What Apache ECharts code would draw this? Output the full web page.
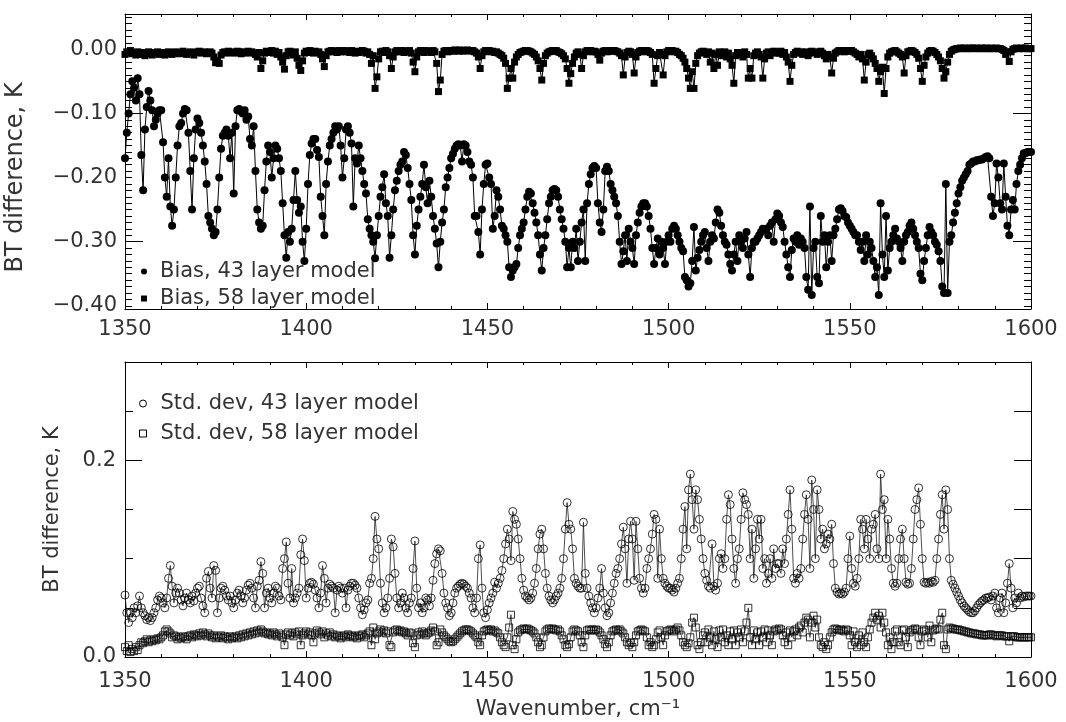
<!DOCTYPE html>
<html>
<head>
<meta charset="utf-8">
<title>BT difference</title>
<script src="https://cdn.jsdelivr.net/npm/echarts@6.0.0/dist/echarts.min.js"></script>
<style>
  html, body { margin: 0; padding: 0; background: #fff; }
  #chart { width: 1066px; height: 722px; }
</style>
</head>
<body>
<div id="chart"></div>
<script>
// channel grid: 1350 to 1600 cm-1, every 0.5 cm-1
var wavenumber = []
for (var w = 1350; w <= 1600; w += 0.5) wavenumber.push(w)

// bias, 43 layer model (K)
var bias43 = [
  -0.17, -0.13, -0.10, -0.07, -0.05, -0.06, -0.08, -0.045, -0.07, -0.165,
  -0.22, -0.125, -0.09, -0.065, -0.08, -0.095, -0.12, -0.11, -0.10, -0.095,
  -0.095, -0.145, -0.20, -0.23, -0.17, -0.245, -0.275, -0.25, -0.20, -0.15,
  -0.12, -0.115, -0.10, -0.093, -0.095, -0.13, -0.19, -0.25, -0.17, -0.125,
  -0.108, -0.115, -0.13, -0.15, -0.175, -0.21, -0.26, -0.27, -0.28, -0.29,
  -0.285, -0.25, -0.20, -0.155, -0.135, -0.13, -0.125, -0.135, -0.17, -0.13,
  -0.225, -0.12, -0.095, -0.093, -0.097, -0.10, -0.095, -0.11, -0.105, -0.14,
  -0.15, -0.12, -0.19, -0.25, -0.27, -0.28, -0.275, -0.22, -0.175, -0.15,
  -0.16, -0.20, -0.17, -0.15, -0.155, -0.17, -0.19, -0.24, -0.29, -0.325,
  -0.285, -0.30, -0.28, -0.235, -0.19, -0.235, -0.255, -0.245, -0.30, -0.33,
  -0.28, -0.21, -0.165, -0.147, -0.14, -0.14, -0.157, -0.168, -0.23, -0.26,
  -0.29, -0.21, -0.175, -0.15, -0.14, -0.13, -0.12, -0.125, -0.12, -0.15,
  -0.20, -0.17, -0.125, -0.12, -0.13, -0.147, -0.245, -0.17, -0.178, -0.15,
  -0.17, -0.19, -0.21, -0.225, -0.265, -0.28, -0.29, -0.30, -0.326, -0.29,
  -0.26, -0.23, -0.215, -0.195, -0.24, -0.26, -0.325, -0.29, -0.25, -0.22,
  -0.205, -0.19, -0.18, -0.175, -0.16, -0.165, -0.185, -0.21, -0.235, -0.29,
  -0.32, -0.275, -0.25, -0.23, -0.21, -0.18, -0.215, -0.24, -0.205, -0.23,
  -0.26, -0.28, -0.303, -0.34, -0.30, -0.27, -0.25, -0.215, -0.20, -0.185,
  -0.17, -0.163, -0.155, -0.15, -0.148, -0.15, -0.175, -0.148, -0.15, -0.16,
  -0.175, -0.18, -0.20, -0.26, -0.26, -0.285, -0.32, -0.25, -0.21, -0.18,
  -0.178, -0.20, -0.21, -0.28, -0.26, -0.22, -0.23, -0.25, -0.275, -0.28,
  -0.29, -0.30, -0.34, -0.355, -0.345, -0.34, -0.335, -0.31, -0.29, -0.28,
  -0.27, -0.25, -0.23, -0.222, -0.225, -0.24, -0.255, -0.27, -0.29, -0.32,
  -0.345, -0.31, -0.29, -0.265, -0.24, -0.23, -0.22, -0.218, -0.22, -0.23,
  -0.25, -0.265, -0.28, -0.30, -0.34, -0.31, -0.34, -0.30, -0.31, -0.28,
  -0.33, -0.30, -0.27, -0.25, -0.33, -0.24, -0.21, -0.195, -0.185, -0.182,
  -0.185, -0.24, -0.27, -0.285, -0.25, -0.19, -0.183, -0.19, -0.21, -0.22,
  -0.23, -0.24, -0.26, -0.30, -0.335, -0.315, -0.29, -0.33, -0.28, -0.30,
  -0.31, -0.335, -0.29, -0.27, -0.255, -0.245, -0.24, -0.24, -0.245, -0.26,
  -0.28, -0.31, -0.335, -0.31, -0.295, -0.32, -0.30, -0.31, -0.335, -0.30,
  -0.29, -0.30, -0.28, -0.275, -0.28, -0.29, -0.30, -0.31, -0.315, -0.355,
  -0.36, -0.37, -0.365, -0.33, -0.277, -0.345, -0.325, -0.313, -0.30, -0.29,
  -0.285, -0.31, -0.33, -0.30, -0.29, -0.295, -0.27, -0.25, -0.255, -0.275,
  -0.29, -0.30, -0.305, -0.32, -0.335, -0.345, -0.32, -0.30, -0.33, -0.29,
  -0.30, -0.31, -0.295, -0.285, -0.32, -0.355, -0.31, -0.30, -0.30, -0.295,
  -0.29, -0.285, -0.28, -0.282, -0.28, -0.29, -0.275, -0.27, -0.30, -0.265,
  -0.256, -0.26, -0.27, -0.277, -0.30, -0.32, -0.34, -0.355, -0.313, -0.295,
  -0.30, -0.29, -0.305, -0.295, -0.30, -0.31, -0.355, -0.375, -0.245, -0.383,
  -0.31, -0.30, -0.355, -0.365, -0.26, -0.30, -0.29, -0.34, -0.30, -0.29,
  -0.33, -0.29, -0.28, -0.265, -0.25, -0.248, -0.252, -0.26, -0.262, -0.27,
  -0.275, -0.28, -0.285, -0.29, -0.29, -0.30, -0.313, -0.30, -0.33, -0.29,
  -0.32, -0.30, -0.31, -0.33, -0.355, -0.34, -0.383, -0.24, -0.32, -0.355,
  -0.26, -0.345, -0.31, -0.30, -0.29, -0.28, -0.295, -0.30, -0.31, -0.33,
  -0.30, -0.29, -0.285, -0.275, -0.27, -0.28, -0.29, -0.30, -0.31, -0.35,
  -0.36, -0.33, -0.31, -0.29, -0.277, -0.285, -0.29, -0.30, -0.305, -0.315,
  -0.33, -0.37, -0.38, -0.21, -0.38, -0.30, -0.29, -0.27, -0.255, -0.24,
  -0.225, -0.215, -0.205, -0.20, -0.195, -0.19, -0.18, -0.178, -0.175, -0.175,
  -0.173, -0.173, -0.172, -0.172, -0.17, -0.168, -0.167, -0.17, -0.23, -0.26,
  -0.24, -0.178, -0.20, -0.24, -0.25, -0.178, -0.23, -0.275, -0.29, -0.25,
  -0.235, -0.25, -0.21, -0.19, -0.18, -0.17, -0.162, -0.162, -0.16, -0.16,
  -0.16
]

// bias, 58 layer model (K)
var bias58 = [
  -0.008, -0.004, -0.006, -0.002, -0.007, -0.005, -0.009, -0.004, -0.006, -0.008,
  -0.005, -0.010, -0.006, -0.004, -0.007, -0.009, -0.005, -0.006, -0.004, -0.008,
  -0.006, -0.005, -0.009, -0.007, -0.004, -0.006, -0.008, -0.005, -0.004, -0.006,
  -0.007, -0.005, -0.003, -0.006, -0.008, -0.005, -0.004, -0.006, -0.009, -0.005,
  -0.004, -0.003, -0.006, -0.005, -0.004, -0.007, -0.005, -0.004, -0.006, -0.012,
  -0.021, -0.018, -0.022, -0.009, -0.005, -0.004, -0.006, -0.003, -0.005, -0.004,
  -0.006, -0.005, -0.003, -0.004, -0.007, -0.005, -0.004, -0.006, -0.003, -0.005,
  -0.004, -0.006, -0.008, -0.012, -0.005, -0.030, -0.018, -0.006, -0.003, -0.005,
  -0.004, -0.002, -0.006, -0.003, -0.008, -0.005, -0.012, -0.020, -0.031, -0.010,
  -0.004, -0.003, -0.006, -0.009, -0.004, -0.014, -0.025, -0.033, -0.018, -0.006,
  -0.003, -0.005, -0.002, -0.004, -0.006, -0.003, -0.005, -0.004, -0.008, -0.015,
  -0.027, -0.010, -0.004, -0.003, -0.002, -0.004, -0.003, -0.005, -0.002, -0.004,
  -0.003, -0.002, -0.004, -0.003, -0.005, -0.002, -0.004, -0.006, -0.003, -0.005,
  -0.004, -0.002, -0.003, -0.006, -0.004, -0.008, -0.022, -0.010, -0.061, -0.043,
  -0.015, -0.004, -0.003, -0.005, -0.002, -0.004, -0.010, -0.030, -0.012, -0.004,
  -0.002, -0.004, -0.003, -0.002, -0.005, -0.003, -0.004, -0.002, -0.006, -0.020,
  -0.035, -0.012, -0.004, -0.002, -0.003, -0.005, -0.002, -0.004, -0.003, -0.005,
  -0.002, -0.004, -0.022, -0.066, -0.048, -0.008, -0.003, -0.002, -0.004, -0.003,
  -0.002, -0.003, -0.001, -0.002, -0.003, -0.001, -0.002, -0.003, -0.002, -0.001,
  -0.002, -0.003, -0.002, -0.004, -0.006, -0.012, -0.030, -0.010, -0.004, -0.002,
  -0.003, -0.002, -0.004, -0.003, -0.005, -0.004, -0.006, -0.008, -0.010, -0.014,
  -0.022, -0.061, -0.045, -0.030, -0.045, -0.020, -0.012, -0.008, -0.005, -0.004,
  -0.003, -0.002, -0.002, -0.003, -0.004, -0.006, -0.008, -0.012, -0.018, -0.030,
  -0.048, -0.022, -0.010, -0.006, -0.004, -0.003, -0.002, -0.003, -0.002, -0.004,
  -0.005, -0.007, -0.010, -0.015, -0.030, -0.053, -0.038, -0.022, -0.012, -0.006,
  -0.004, -0.008, -0.030, -0.010, -0.004, -0.002, -0.003, -0.002, -0.004, -0.003,
  -0.004, -0.008, -0.017, -0.006, -0.003, -0.002, -0.004, -0.003, -0.002, -0.003,
  -0.002, -0.003, -0.004, -0.006, -0.010, -0.040, -0.012, -0.005, -0.003, -0.004,
  -0.008, -0.037, -0.012, -0.005, -0.003, -0.002, -0.003, -0.004, -0.002, -0.003,
  -0.005, -0.008, -0.053, -0.030, -0.010, -0.005, -0.008, -0.040, -0.010, -0.004,
  -0.002, -0.003, -0.002, -0.004, -0.003, -0.005, -0.008, -0.010, -0.014, -0.020,
  -0.030, -0.045, -0.061, -0.035, -0.061, -0.022, -0.010, -0.006, -0.004, -0.003,
  -0.005, -0.008, -0.004, -0.020, -0.006, -0.030, -0.008, -0.025, -0.004, -0.010,
  -0.006, -0.004, -0.012, -0.006, -0.015, -0.025, -0.053, -0.010, -0.005, -0.008,
  -0.006, -0.012, -0.004, -0.008, -0.045, -0.030, -0.045, -0.010, -0.006, -0.004,
  -0.008, -0.012, -0.045, -0.015, -0.006, -0.004, -0.010, -0.005, -0.003, -0.006,
  -0.004, -0.006, -0.003, -0.008, -0.005, -0.012, -0.020, -0.050, -0.025, -0.008,
  -0.005, -0.003, -0.006, -0.004, -0.008, -0.006, -0.004, -0.010, -0.006, -0.003,
  -0.005, -0.004, -0.008, -0.005, -0.003, -0.006, -0.010, -0.015, -0.008, -0.012,
  -0.037, -0.014, -0.006, -0.004, -0.002, -0.003, -0.002, -0.004, -0.003, -0.002,
  -0.003, -0.002, -0.004, -0.006, -0.008, -0.012, -0.008, -0.015, -0.048, -0.020,
  -0.008, -0.006, -0.010, -0.015, -0.022, -0.030, -0.050, -0.035, -0.028, -0.069,
  -0.030, -0.012, -0.006, -0.004, -0.003, -0.002, -0.004, -0.006, -0.008, -0.012,
  -0.037, -0.010, -0.004, -0.003, -0.002, -0.003, -0.005, -0.008, -0.014, -0.030,
  -0.050, -0.025, -0.012, -0.006, -0.003, -0.002, -0.003, -0.005, -0.008, -0.012,
  -0.018, -0.030, -0.045, -0.035, -0.020, -0.008, -0.003, -0.001, 0.000, 0.001,
  0.001, 0.002, 0.001, 0.002, 0.001, 0.001, 0.002, 0.001, 0.002, 0.001,
  0.002, 0.001, 0.001, 0.002, 0.001, 0.002, 0.001, 0.001, 0.002, 0.001,
  0.001, 0.002, 0.001, 0.001, 0.000, -0.002, -0.008, -0.004, -0.019, -0.004,
  0.000, 0.001, 0.002, 0.001, 0.001, 0.002, 0.001, 0.002, 0.001, 0.001,
  0.001
]

// std. dev, 43 layer model (K)
var std43 = [
  0.063, 0.045, 0.035, 0.045, 0.040, 0.050, 0.045, 0.052, 0.062, 0.050,
  0.045, 0.042, 0.038, 0.040, 0.037, 0.040, 0.045, 0.050, 0.058, 0.062,
  0.060, 0.055, 0.050, 0.060, 0.080, 0.093, 0.072, 0.055, 0.065, 0.070,
  0.065, 0.058, 0.052, 0.060, 0.065, 0.058, 0.055, 0.062, 0.057, 0.065,
  0.070, 0.072, 0.060, 0.052, 0.045, 0.080, 0.087, 0.070, 0.060, 0.093,
  0.088, 0.045, 0.060, 0.070, 0.072, 0.068, 0.062, 0.058, 0.062, 0.055,
  0.050, 0.058, 0.065, 0.068, 0.062, 0.055, 0.060, 0.068, 0.073, 0.075,
  0.070, 0.060, 0.050, 0.072, 0.078, 0.097, 0.085, 0.050, 0.065, 0.070,
  0.060, 0.055, 0.065, 0.072, 0.070, 0.062, 0.058, 0.090, 0.100, 0.117,
  0.075, 0.060, 0.090, 0.055, 0.060, 0.065, 0.070, 0.104, 0.120, 0.098,
  0.060, 0.070, 0.075, 0.076, 0.074, 0.068, 0.060, 0.050, 0.065, 0.093,
  0.080, 0.055, 0.070, 0.074, 0.072, 0.070, 0.045, 0.068, 0.072, 0.070,
  0.065, 0.070, 0.050, 0.068, 0.072, 0.075, 0.075, 0.073, 0.070, 0.060,
  0.050, 0.043, 0.048, 0.055, 0.058, 0.075, 0.080, 0.100, 0.143, 0.120,
  0.110, 0.075, 0.055, 0.045, 0.050, 0.060, 0.080, 0.120, 0.112, 0.085,
  0.060, 0.050, 0.055, 0.065, 0.060, 0.050, 0.045, 0.055, 0.060, 0.090,
  0.118, 0.070, 0.050, 0.055, 0.045, 0.050, 0.060, 0.058, 0.052, 0.060,
  0.078, 0.095, 0.105, 0.110, 0.108, 0.085, 0.065, 0.055, 0.050, 0.042,
  0.045, 0.055, 0.065, 0.070, 0.072, 0.074, 0.075, 0.074, 0.072, 0.070,
  0.065, 0.060, 0.050, 0.045, 0.060, 0.100, 0.114, 0.070, 0.045, 0.040,
  0.048, 0.055, 0.060, 0.065, 0.076, 0.070, 0.075, 0.080, 0.088, 0.100,
  0.115, 0.130, 0.120, 0.098, 0.148, 0.140, 0.135, 0.120, 0.100, 0.080,
  0.068, 0.062, 0.060, 0.058, 0.060, 0.065, 0.075, 0.090, 0.110, 0.125,
  0.130, 0.110, 0.085, 0.070, 0.062, 0.058, 0.055, 0.058, 0.062, 0.065,
  0.070, 0.080, 0.100, 0.130, 0.157, 0.135, 0.130, 0.110, 0.080, 0.075,
  0.072, 0.070, 0.070, 0.137, 0.085, 0.070, 0.062, 0.055, 0.050, 0.045,
  0.050, 0.060, 0.070, 0.090, 0.065, 0.050, 0.042, 0.045, 0.055, 0.065,
  0.075, 0.085, 0.090, 0.100, 0.115, 0.132, 0.110, 0.075, 0.120, 0.138,
  0.120, 0.078, 0.138, 0.110, 0.080, 0.070, 0.065, 0.070, 0.090, 0.100,
  0.110, 0.125, 0.145, 0.140, 0.080, 0.130, 0.100, 0.080, 0.075, 0.072,
  0.070, 0.070, 0.068, 0.066, 0.070, 0.075, 0.080, 0.100, 0.130, 0.153,
  0.110, 0.170, 0.186, 0.160, 0.130, 0.170, 0.160, 0.140, 0.120, 0.100,
  0.085, 0.078, 0.072, 0.070, 0.115, 0.072, 0.068, 0.075, 0.100, 0.105,
  0.090, 0.100, 0.140, 0.165, 0.155, 0.120, 0.090, 0.075, 0.100, 0.110,
  0.140, 0.167, 0.160, 0.155, 0.145, 0.100, 0.130, 0.080, 0.110, 0.140,
  0.120, 0.140, 0.090, 0.100, 0.075, 0.085, 0.100, 0.080, 0.110, 0.090,
  0.095, 0.095, 0.085, 0.110, 0.095, 0.120, 0.145, 0.170, 0.130, 0.080,
  0.075, 0.085, 0.080, 0.090, 0.120, 0.145, 0.165, 0.140, 0.090, 0.180,
  0.150, 0.100, 0.170, 0.150, 0.120, 0.130, 0.110, 0.115, 0.125, 0.120,
  0.135, 0.095, 0.070, 0.066, 0.064, 0.065, 0.064, 0.066, 0.070, 0.100,
  0.123, 0.090, 0.075, 0.072, 0.080, 0.100, 0.140, 0.130, 0.110, 0.140,
  0.120, 0.100, 0.130, 0.135, 0.145, 0.110, 0.100, 0.186, 0.150, 0.160,
  0.100, 0.140, 0.120, 0.090, 0.075, 0.072, 0.075, 0.100, 0.120, 0.130,
  0.100, 0.076, 0.074, 0.075, 0.090, 0.120, 0.150, 0.160, 0.172, 0.135,
  0.100, 0.076, 0.075, 0.076, 0.075, 0.077, 0.076, 0.078, 0.100, 0.120,
  0.145, 0.165, 0.130, 0.170, 0.150, 0.100, 0.078, 0.074, 0.070, 0.066,
  0.062, 0.058, 0.055, 0.052, 0.050, 0.048, 0.046, 0.045, 0.045, 0.047,
  0.050, 0.053, 0.055, 0.057, 0.058, 0.060, 0.060, 0.061, 0.058, 0.062,
  0.065, 0.050, 0.045, 0.060, 0.065, 0.045, 0.055, 0.075, 0.095, 0.070,
  0.050, 0.060, 0.055, 0.065, 0.060, 0.062, 0.061, 0.062, 0.062, 0.062,
  0.062
]

// std. dev, 58 layer model (K)
var std58 = [
  0.010, 0.006, 0.012, 0.005, 0.008, 0.006, 0.010, 0.007, 0.012, 0.015,
  0.014, 0.016, 0.018, 0.015, 0.017, 0.016, 0.018, 0.017, 0.019, 0.018,
  0.020, 0.022, 0.026, 0.028, 0.026, 0.024, 0.020, 0.022, 0.021, 0.018,
  0.020, 0.019, 0.021, 0.020, 0.018, 0.021, 0.022, 0.020, 0.023, 0.022,
  0.021, 0.024, 0.022, 0.025, 0.023, 0.021, 0.024, 0.022, 0.020, 0.022,
  0.019, 0.021, 0.020, 0.022, 0.019, 0.021, 0.020, 0.018, 0.021, 0.019,
  0.020, 0.021, 0.019, 0.022, 0.020, 0.023, 0.021, 0.024, 0.022, 0.025,
  0.023, 0.026, 0.024, 0.027, 0.025, 0.028, 0.026, 0.024, 0.025, 0.023,
  0.024, 0.022, 0.025, 0.023, 0.021, 0.024, 0.022, 0.020, 0.012, 0.023,
  0.025, 0.022, 0.024, 0.021, 0.025, 0.023, 0.026, 0.012, 0.022, 0.024,
  0.026, 0.023, 0.025, 0.022, 0.015, 0.024, 0.027, 0.025, 0.023, 0.026,
  0.020, 0.024, 0.022, 0.025, 0.021, 0.023, 0.020, 0.022, 0.021, 0.019,
  0.021, 0.022, 0.020, 0.023, 0.021, 0.022, 0.020, 0.021, 0.019, 0.022,
  0.021, 0.023, 0.020, 0.022, 0.024, 0.026, 0.012, 0.030, 0.018, 0.024,
  0.026, 0.028, 0.025, 0.027, 0.024, 0.026, 0.012, 0.010, 0.025, 0.027,
  0.028, 0.026, 0.027, 0.025, 0.026, 0.024, 0.022, 0.025, 0.024, 0.014,
  0.010, 0.022, 0.025, 0.023, 0.026, 0.024, 0.022, 0.024, 0.025, 0.027,
  0.030, 0.026, 0.012, 0.015, 0.028, 0.025, 0.022, 0.020, 0.018, 0.016,
  0.015, 0.016, 0.018, 0.020, 0.022, 0.024, 0.026, 0.027, 0.028, 0.028,
  0.027, 0.026, 0.024, 0.022, 0.020, 0.015, 0.012, 0.022, 0.026, 0.027,
  0.028, 0.027, 0.028, 0.026, 0.027, 0.025, 0.024, 0.020, 0.015, 0.012,
  0.010, 0.020, 0.030, 0.043, 0.012, 0.008, 0.018, 0.025, 0.027, 0.028,
  0.029, 0.028, 0.029, 0.028, 0.027, 0.026, 0.024, 0.020, 0.015, 0.010,
  0.012, 0.020, 0.026, 0.028, 0.029, 0.028, 0.029, 0.028, 0.027, 0.028,
  0.026, 0.022, 0.018, 0.012, 0.010, 0.013, 0.020, 0.026, 0.028, 0.027,
  0.026, 0.022, 0.015, 0.010, 0.022, 0.027, 0.028, 0.027, 0.028, 0.027,
  0.028, 0.027, 0.025, 0.022, 0.018, 0.013, 0.010, 0.015, 0.022, 0.026,
  0.027, 0.028, 0.027, 0.028, 0.026, 0.024, 0.020, 0.015, 0.012, 0.014,
  0.010, 0.015, 0.022, 0.026, 0.027, 0.028, 0.027, 0.026, 0.020, 0.012,
  0.015, 0.010, 0.012, 0.018, 0.025, 0.027, 0.020, 0.012, 0.022, 0.026,
  0.027, 0.028, 0.027, 0.026, 0.028, 0.030, 0.027, 0.022, 0.015, 0.012,
  0.010, 0.014, 0.020, 0.035, 0.040, 0.030, 0.012, 0.008, 0.015, 0.022,
  0.025, 0.015, 0.028, 0.020, 0.012, 0.026, 0.018, 0.010, 0.027, 0.020,
  0.028, 0.015, 0.022, 0.012, 0.026, 0.018, 0.027, 0.012, 0.025, 0.020,
  0.028, 0.015, 0.026, 0.035, 0.050, 0.020, 0.012, 0.027, 0.018, 0.025,
  0.012, 0.026, 0.020, 0.028, 0.015, 0.027, 0.022, 0.012, 0.026, 0.028,
  0.027, 0.029, 0.028, 0.022, 0.015, 0.025, 0.012, 0.027, 0.020, 0.026,
  0.028, 0.022, 0.030, 0.032, 0.025, 0.035, 0.040, 0.038, 0.020, 0.035,
  0.042, 0.030, 0.038, 0.020, 0.012, 0.010, 0.015, 0.008, 0.012, 0.020,
  0.025, 0.028, 0.029, 0.028, 0.027, 0.028, 0.027, 0.026, 0.028, 0.027,
  0.022, 0.012, 0.026, 0.015, 0.010, 0.022, 0.012, 0.025, 0.015, 0.010,
  0.020, 0.028, 0.035, 0.040, 0.045, 0.038, 0.042, 0.030, 0.045, 0.035,
  0.025, 0.012, 0.020, 0.008, 0.015, 0.026, 0.028, 0.015, 0.012, 0.027,
  0.028, 0.020, 0.010, 0.025, 0.027, 0.028, 0.029, 0.028, 0.020, 0.012,
  0.026, 0.028, 0.027, 0.020, 0.032, 0.015, 0.027, 0.028, 0.029, 0.028,
  0.038, 0.045, 0.012, 0.008, 0.028, 0.030, 0.029, 0.029, 0.028, 0.028,
  0.028, 0.027, 0.027, 0.026, 0.026, 0.025, 0.025, 0.024, 0.024, 0.024,
  0.023, 0.023, 0.023, 0.022, 0.022, 0.022, 0.022, 0.023, 0.023, 0.022,
  0.022, 0.021, 0.022, 0.022, 0.022, 0.021, 0.021, 0.021, 0.016, 0.021,
  0.021, 0.021, 0.020, 0.020, 0.020, 0.020, 0.020, 0.020, 0.020, 0.020,
  0.020
]

// tick marks and labels
var xTicks = [1350, 1400, 1450, 1500, 1550, 1600]
var biasLabels = [-0.4, -0.3, -0.2, -0.1, 0]
var biasLongTicks = [-0.3, -0.1]
var stdLabels = [0, 0.2]
var stdLongTicks = [0.2]
var stdShortTicks = [0.05, 0.1, 0.15, 0.25]
var stdRightTicks = [0.05, 0.1, 0.15, 0.2, 0.25]
var biasShortTicks = []
for (var k = -40; k <= 5; k++) {
  if (k !== -30 && k !== -10) biasShortTicks.push(k / 100)
}

var font = 'DejaVu Sans'
var ink = '#000'
var textInk = '#333'

function pairs (values) {
  return wavenumber.map(function (x, i) { return [x, values[i]] })
}

function xAxisFor (gridIndex, position, showLabel, margin) {
  return {
    type: 'value',
    gridIndex: gridIndex,
    position: position,
    min: 1350,
    max: 1600,
    interval: 50,
    axisLine: { show: true, onZero: false, lineStyle: { color: ink, width: 1 } },
    splitLine: { show: false },
    axisTick: { show: true, inside: true, length: 6, lineStyle: { color: ink } },
    minorTick: { show: true, splitNumber: 5, length: 3, lineStyle: { color: ink } },
    axisLabel: {
      show: showLabel,
      customValues: xTicks,
      margin: margin,
      fontFamily: font,
      fontSize: 21,
      color: textInk,
      formatter: function (v) { return String(v) }
    }
  }
}

function yTickAxis (gridIndex, position, min, max, ticks, len, showLine) {
  return {
    type: 'value',
    gridIndex: gridIndex,
    position: position,
    min: min,
    max: max,
    axisLine: { show: showLine, onZero: false, lineStyle: { color: ink, width: 1 } },
    splitLine: { show: false },
    axisTick: { show: true, inside: true, length: len, customValues: ticks, lineStyle: { color: ink } },
    axisLabel: { show: false }
  }
}

var biasMin = -0.405
var biasMax = 0.055
var stdMin = 0
var stdMax = 0.3

var biasLeft = yTickAxis(0, 'left', biasMin, biasMax, biasLongTicks, 18, true)
biasLeft.axisLabel = {
  show: true,
  customValues: biasLabels,
  margin: 8,
  fontFamily: font,
  fontSize: 21,
  color: textInk,
  formatter: function (v) {
    if (Math.abs(v) < 1e-9) return '0.00'
    return (v < 0 ? '\u2212' : '') + Math.abs(v).toFixed(2)
  }
}
biasLeft.name = 'BT difference, K'
biasLeft.nameLocation = 'middle'
biasLeft.nameGap = 97
// the upper title sits a little below the panel centre and is set larger
biasLeft.nameTextStyle = { fontFamily: font, fontSize: 24, color: textInk, padding: [0, 32, 0, 0] }

var stdLeft = yTickAxis(1, 'left', stdMin, stdMax, stdLongTicks, 17, true)
stdLeft.axisLabel = {
  show: true,
  customValues: stdLabels,
  margin: 9,
  fontFamily: font,
  fontSize: 21,
  color: textInk,
  formatter: function (v) { return v.toFixed(1) }
}
stdLeft.name = 'BT difference, K'
stdLeft.nameLocation = 'middle'
stdLeft.nameGap = 62
stdLeft.nameTextStyle = { fontFamily: font, fontSize: 21, color: textInk }

var stdBottomX = xAxisFor(1, 'bottom', true, 14)
stdBottomX.name = 'Wavenumber, cm\u207B\u00B9'
stdBottomX.nameLocation = 'middle'
stdBottomX.nameGap = 42
stdBottomX.nameTextStyle = { fontFamily: font, fontSize: 21, color: textInk }

var option = {
  animation: false,
  backgroundColor: '#fff',
  grid: [
    { left: 125, top: 14, width: 906, height: 295, outerBoundsMode: 'none' },
    { left: 125, top: 362, width: 906, height: 295, outerBoundsMode: 'none' }
  ],
  legend: [
    {
      orient: 'vertical',
      left: 141,
      top: 261,
      padding: 0,
      itemGap: 6,
      itemWidth: 6,
      itemHeight: 6,
      selectedMode: false,
      textStyle: { fontFamily: font, fontSize: 21, color: textInk, padding: [0, 0, 0, 8] },
      data: [
        { name: 'Bias, 43 layer model', icon: 'circle' },
        { name: 'Bias, 58 layer model', icon: 'rect' }
      ]
    },
    {
      orient: 'vertical',
      left: 139,
      top: 393,
      padding: 0,
      itemGap: 9,
      itemWidth: 7,
      itemHeight: 7,
      selectedMode: false,
      textStyle: { fontFamily: font, fontSize: 21, color: textInk, padding: [0, 0, 0, 9] },
      data: [
        { name: 'Std. dev, 43 layer model', icon: 'circle', itemStyle: { color: 'rgba(0,0,0,0)', borderColor: ink, borderWidth: 1 } },
        { name: 'Std. dev, 58 layer model', icon: 'rect', itemStyle: { color: 'rgba(0,0,0,0)', borderColor: ink, borderWidth: 1 } }
      ]
    }
  ],
  xAxis: [
    xAxisFor(0, 'bottom', true, 10),
    xAxisFor(0, 'top', false, 8),
    stdBottomX,
    xAxisFor(1, 'top', false, 8)
  ],
  yAxis: [
    biasLeft,
    yTickAxis(0, 'left', biasMin, biasMax, biasShortTicks, 7, false),
    yTickAxis(0, 'right', biasMin, biasMax, biasLongTicks, 18, true),
    yTickAxis(0, 'right', biasMin, biasMax, biasShortTicks, 7, false),
    stdLeft,
    yTickAxis(1, 'left', stdMin, stdMax, stdShortTicks, 8, false),
    yTickAxis(1, 'right', stdMin, stdMax, stdRightTicks, 17, true)
  ],
  series: [
    {
      name: 'Bias, 43 layer model',
      type: 'line',
      xAxisIndex: 0,
      yAxisIndex: 0,
      data: pairs(bias43),
      symbol: 'circle',
      symbolSize: 8,
      itemStyle: { color: ink },
      lineStyle: { color: ink, width: 1 },
      silent: true
    },
    {
      name: 'Bias, 58 layer model',
      type: 'line',
      xAxisIndex: 0,
      yAxisIndex: 0,
      data: pairs(bias58),
      symbol: 'rect',
      symbolSize: 7,
      itemStyle: { color: ink },
      lineStyle: { color: ink, width: 1 },
      silent: true
    },
    {
      name: 'Std. dev, 43 layer model',
      type: 'line',
      xAxisIndex: 2,
      yAxisIndex: 4,
      data: pairs(std43),
      symbol: 'circle',
      symbolSize: 8,
      itemStyle: { color: 'rgba(0,0,0,0)', borderColor: ink, borderWidth: 0.8 },
      lineStyle: { color: '#222', width: 0.8 },
      silent: true
    },
    {
      name: 'Std. dev, 58 layer model',
      type: 'line',
      xAxisIndex: 2,
      yAxisIndex: 4,
      data: pairs(std58),
      symbol: 'rect',
      symbolSize: 7,
      itemStyle: { color: 'rgba(0,0,0,0)', borderColor: ink, borderWidth: 0.8 },
      lineStyle: { color: '#222', width: 0.8 },
      silent: true
    }
  ]
}

var chart = echarts.init(document.getElementById('chart'))
chart.setOption(option)
</script>
</body>
</html>
